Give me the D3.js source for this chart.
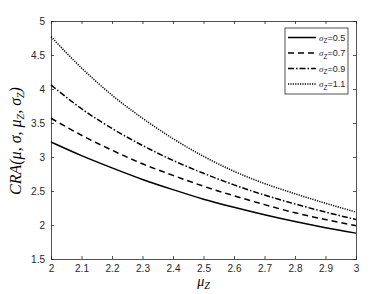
<!DOCTYPE html>
<html>
<head>
<meta charset="utf-8">
<script src="https://cdn.jsdelivr.net/npm/d3@7"></script>
<style>
  body { margin: 0; background: #fff; }
  svg text { font-family: 'Liberation Sans', Arial, sans-serif; }
</style>
</head>
<body>
<div id="chart"></div>
<script>
const muZ = [2.0, 2.1, 2.2, 2.3, 2.4, 2.5, 2.6, 2.7, 2.8, 2.9, 3.0];
const cra05 = [3.22, 3.02, 2.84, 2.67, 2.52, 2.38, 2.26, 2.15, 2.05, 1.96, 1.88];
const cra07 = [3.57, 3.32, 3.10, 2.90, 2.73, 2.57, 2.43, 2.30, 2.18, 2.08, 1.99];
const cra09 = [4.06, 3.71, 3.42, 3.17, 2.95, 2.76, 2.59, 2.44, 2.31, 2.19, 2.08];
const cra11 = [4.77, 4.31, 3.91, 3.57, 3.27, 3.01, 2.79, 2.61, 2.46, 2.32, 2.19];
const sigmaLabels = ['0.5', '0.7', '0.9', '1.1'];
const xTicks = [2, 2.1, 2.2, 2.3, 2.4, 2.5, 2.6, 2.7, 2.8, 2.9, 3];
const yTicks = [1.5, 2, 2.5, 3, 3.5, 4, 4.5, 5];

const width = 392;
const height = 294;
const margin = { top: 21, right: 36, bottom: 35, left: 51 };
const innerW = width - margin.left - margin.right;
const innerH = height - margin.top - margin.bottom;

const series = [
  { values: cra05, dash: null },
  { values: cra07, dash: '6,4' },
  { values: cra09, dash: '6,2,1.5,2' },
  { values: cra11, dash: '1.2,1.2' },
];

const svg = d3.select('#chart').append('svg')
  .attr('width', width)
  .attr('height', height);

const g = svg.append('g')
  .attr('transform', `translate(${margin.left},${margin.top})`);

const x = d3.scaleLinear().domain([2, 3]).range([0, innerW]);
const y = d3.scaleLinear().domain([1.5, 5]).range([innerH, 0]);

const axisColor = '#262626';
const fmt = (d) => String(d);

// axes, ticks pointing inward like matlab
const xAxis = g.append('g')
  .attr('transform', `translate(0,${innerH})`)
  .call(d3.axisBottom(x).tickValues(xTicks).tickSize(-3).tickPadding(6).tickFormat(fmt));
const xTop = g.append('g')
  .call(d3.axisTop(x).tickValues(xTicks).tickSize(-3).tickFormat(''));
const yAxis = g.append('g')
  .call(d3.axisLeft(y).tickValues(yTicks).tickSize(-3).tickPadding(6).tickFormat(fmt));
const yRight = g.append('g')
  .attr('transform', `translate(${innerW},0)`)
  .call(d3.axisRight(y).tickValues(yTicks).tickSize(-3).tickFormat(''));

[xAxis, xTop, yAxis, yRight].forEach((a) => {
  a.select('.domain').attr('stroke', axisColor).attr('stroke-width', 0.8);
  a.selectAll('.tick line').attr('stroke', axisColor).attr('stroke-width', 0.8);
  a.selectAll('.tick text').attr('fill', axisColor).style('font-size', '10px');
});

const line = d3.line()
  .x((d, i) => x(muZ[i]))
  .y((d) => y(d))
  .curve(d3.curveMonotoneX);

g.selectAll('path.series')
  .data(series)
  .enter()
  .append('path')
  .attr('class', 'series')
  .attr('d', (d) => line(d.values))
  .attr('fill', 'none')
  .attr('stroke', '#000')
  .attr('stroke-width', 1.5)
  .attr('stroke-dasharray', (d) => d.dash);

// axis labels
svg.append('text')
  .attr('x', margin.left + innerW / 2)
  .attr('y', 286)
  .attr('text-anchor', 'middle')
  .style('font-family', "'Liberation Serif', 'DejaVu Serif', serif")
  .style('font-style', 'italic')
  .style('font-size', '14px')
  .html('μ<tspan font-size="10px" dy="3">Z</tspan>');

svg.append('text')
  .attr('transform', 'translate(21,141) rotate(-90)')
  .attr('text-anchor', 'middle')
  .style('font-family', "'Liberation Serif', 'DejaVu Serif', serif")
  .style('font-style', 'italic')
  .style('font-size', '16px')
  .html('CRA(μ, σ, μ<tspan font-size="10px" dy="3">Z</tspan><tspan dy="-3">, σ</tspan><tspan font-size="10px" dy="3">Z</tspan><tspan dy="-3">)</tspan>');

// legend
const legend = svg.append('g').attr('transform', 'translate(285,28)');
legend.append('rect')
  .attr('width', 63)
  .attr('height', 66)
  .attr('fill', '#fff')
  .attr('stroke', axisColor)
  .attr('stroke-width', 0.8);

const items = legend.selectAll('g.item')
  .data(series)
  .enter()
  .append('g')
  .attr('class', 'item')
  .attr('transform', (d, i) => `translate(0,${9.5 + i * 15.5})`);

items.append('line')
  .attr('x1', 3)
  .attr('x2', 31)
  .attr('stroke', '#000')
  .attr('stroke-width', 1.5)
  .attr('stroke-dasharray', (d) => d.dash);

items.append('text')
  .attr('x', 34)
  .attr('y', 3)
  .attr('fill', axisColor)
  .style('font-size', '9px')
  .html((d, i) => `<tspan font-family="'Liberation Serif', serif" font-style="italic">σ</tspan><tspan font-size="6.5px" dy="2.5">Z</tspan><tspan dy="-2.5">=${sigmaLabels[i]}</tspan>`);
</script>
</body>
</html>
